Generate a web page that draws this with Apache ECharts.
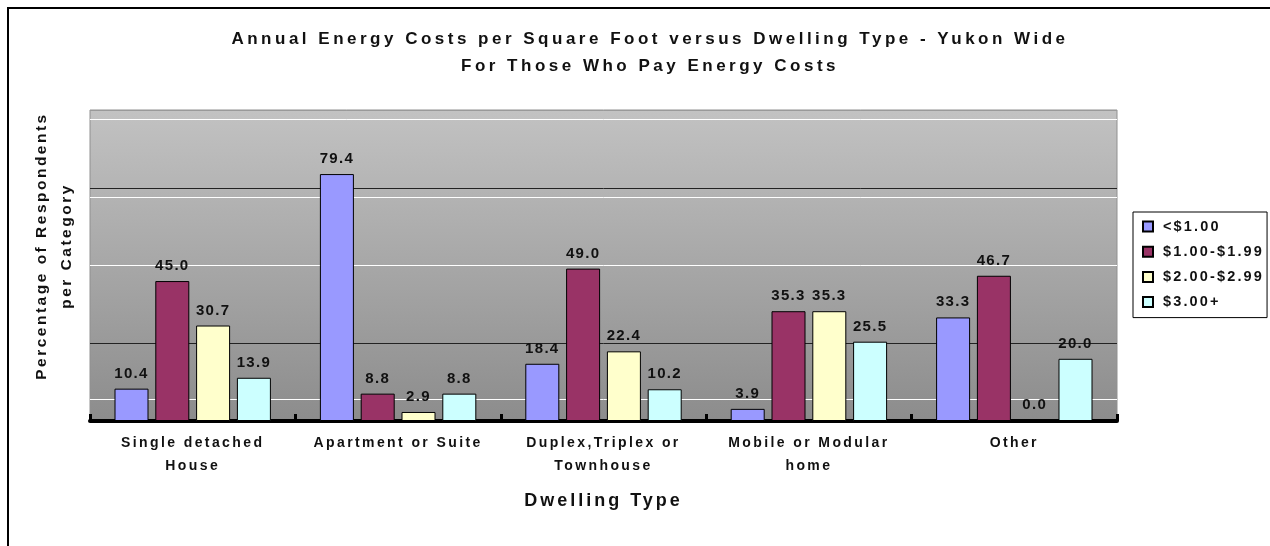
<!DOCTYPE html>
<html>
<head>
<meta charset="utf-8">
<script src="https://cdn.jsdelivr.net/npm/echarts@6/dist/echarts.min.js"></script>
<style>
html, body { margin: 0; padding: 0; background: #fff; }
#chart { width: 1270px; height: 546px; }
</style>
</head>
<body>
<div id="chart"></div>
<script>
// chart data
const categories = ['Single detached\nHouse', 'Apartment or Suite', 'Duplex,Triplex or\nTownhouse', 'Mobile or Modular\nhome', 'Other'];
const seriesNames = ['<$1.00', '$1.00-$1.99', '$2.00-$2.99', '$3.00+'];
const under1 = [10.4, 79.4, 18.4, 3.9, 33.3];
const from1to2 = [45.0, 8.8, 49.0, 35.3, 46.7];
const from2to3 = [30.7, 2.9, 22.4, 35.3, 0.0];
const over3 = [13.9, 8.8, 10.2, 25.5, 20.0];
const barColors = ['#9999ff', '#993366', '#ffffcc', '#ccffff'];
const bandLines = [97, 72, 7];

const FONT = '"Liberation Sans", Arial, sans-serif';

// the old chart uses wide letter spacing, so add it per font size
const spacingBySize = { 17: 3.5, 18: 3, 14: 2.4, 15: 1.3, 14.5: 2.15, 15.5: 2.5 };
function applySpacing(ctx) {
    const m = /([\d.]+)px/.exec(ctx.font);
    const s = m ? spacingBySize[parseFloat(m[1])] : 0;
    ctx.letterSpacing = (s || 0) + 'px';
}
['fillText', 'strokeText', 'measureText'].forEach(fn => {
    const orig = CanvasRenderingContext2D.prototype[fn];
    CanvasRenderingContext2D.prototype[fn] = function () {
        applySpacing(this);
        return orig.apply(this, arguments);
    };
});

const seriesData = [under1, from1to2, from2to3, over3];

let chart = echarts.init(document.getElementById('chart'));

let option = {
    animation: false,
    textStyle: { fontFamily: FONT },
    title: {
        text: 'Annual Energy Costs per Square Foot versus Dwelling Type - Yukon Wide\nFor Those Who Pay Energy Costs',
        left: 650,
        top: 26,
        padding: 0,
        textAlign: 'center',
        textStyle: { fontSize: 17, fontWeight: 'bold', lineHeight: 27, color: '#111' }
    },
    legend: {
        orient: 'vertical',
        left: 1133,
        top: 212,
        itemWidth: 10,
        itemHeight: 10,
        itemGap: 8,
        padding: [6, 3, 7, 9],
        borderColor: '#000',
        borderWidth: 1,
        backgroundColor: '#fff',
        icon: 'rect',
        textStyle: { fontSize: 14.5, fontWeight: 'bold', color: '#111', lineHeight: 16, padding: [0, 0, 0, 5] },
        data: seriesNames
    },
    grid: {
        left: 90,
        top: 110,
        right: 153,
        bottom: 125,
        show: true,
        borderColor: '#909090',
        borderWidth: 1,
        backgroundColor: {
            type: 'linear', x: 0, y: 0, x2: 0, y2: 1,
            colorStops: [{ offset: 0, color: '#c2c2c2' }, { offset: 1, color: '#8c8c8c' }]
        }
    },
    xAxis: {
        type: 'category',
        data: categories,
        axisLine: { lineStyle: { color: '#000', width: 4 } },
        axisTick: { show: true, inside: true, length: 7, lineStyle: { color: '#000', width: 3 } },
        axisLabel: { interval: 0, fontSize: 14, fontWeight: 'bold', color: '#111', lineHeight: 23, margin: 11 },
        name: 'Dwelling Type',
        nameLocation: 'middle',
        nameGap: 70,
        nameTextStyle: { fontSize: 18, fontWeight: 'bold', color: '#111' }
    },
    yAxis: {
        type: 'value',
        min: 0,
        max: 100,
        interval: 25,
        axisLabel: { show: false },
        axisLine: { show: false },
        axisTick: { show: false },
        splitLine: { lineStyle: { color: ['#000', '#222', '#fff', '#222', '#999'], width: 1 } }
    },
    series: seriesNames.map((name, i) => ({
        name: name,
        type: 'bar',
        data: seriesData[i],
        barWidth: 34,
        barGap: '20%',
        itemStyle: { color: barColors[i], borderColor: '#000', borderWidth: 1 },
        label: {
            show: true,
            position: 'top',
            distance: 7,
            fontSize: 15,
            fontWeight: 'bold',
            color: '#111',
            formatter: p => p.value.toFixed(1)
        },
        markLine: i === 0 ? {
            silent: true,
            symbol: 'none',
            z: 1,
            label: { show: false },
            lineStyle: { color: '#fff', width: 1, type: 'solid' },
            data: bandLines.map(v => ({ yAxis: v }))
        } : undefined
    })),
    graphic: [
        {
            type: 'text',
            x: 54,
            y: 246,
            rotation: Math.PI / 2,
            style: {
                text: 'Percentage of Respondents\nper Category',
                font: 'bold 15.5px ' + FONT,
                align: 'center',
                verticalAlign: 'middle',
                lineHeight: 25,
                fill: '#111'
            }
        },
        {
            type: 'rect',
            silent: true,
            z: 100,
            shape: { x: 8, y: 8, width: 1400, height: 700 },
            style: { fill: 'transparent', stroke: '#000', lineWidth: 2 }
        }
    ]
};

chart.setOption(option);
</script>
</body>
</html>
